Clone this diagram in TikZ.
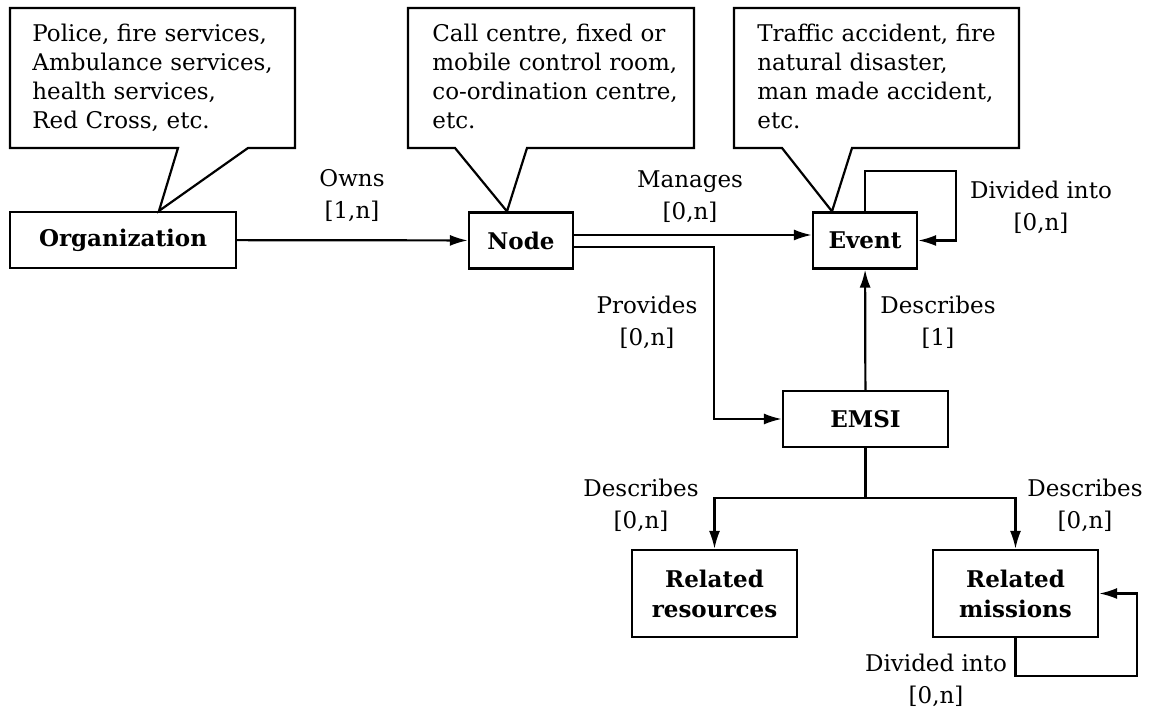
\documentclass[tikz,border=0pt]{standalone}
\usepackage{fontspec}
\setmainfont{DejaVu Serif}
\usetikzlibrary{arrows.meta}

\begin{document}
\begin{tikzpicture}[
    x=0.5pt, y=-0.5pt,
    every node/.style = {font=\fontsize{11.5}{15}\selectfont},
    box/.style = {
      draw, line width=1.1pt, align=center, inner sep=0pt,
      minimum height=28pt, font=\fontsize{11.5}{15}\selectfont\bfseries
    },
    note/.style = {
      anchor=north west, inner sep=0pt, text width=140pt, align=left,
      font=\fontsize{11.5}{14.5}\selectfont
    },
    lbl/.style = {align=center, font=\fontsize{11.5}{16}\selectfont},
    conn/.style = {line width=1.1pt, -{Latex[length=9pt, width=5.5pt]}},
    balloon/.style = {line width=1.1pt, line join=miter}
  ]
  \useasboundingbox (0,0) rectangle (1153,710);

  % entities
  \node[box, minimum width=113pt] (org) at (123,240) {Organization};
  \node[box, minimum width=52pt] (node) at (521,240.5) {Node};
  \node[box, minimum width=52pt] (event) at (865,240.5) {Event};
  \node[box, minimum width=82.5pt] (emsi) at (865.5,419) {EMSI};
  \node[box, minimum width=82.5pt, minimum height=43.5pt] (res) at (714.5,593.5)
    {Related\\resources};
  \node[box, minimum width=82.5pt, minimum height=43.5pt] (mis) at (1015.5,593.5)
    {Related\\missions};

  % callouts
  \draw[balloon] (10,8) -- (295,8) -- (295,148) -- (248,148)
    -- ([xshift=18pt]org.north) -- (178,148) -- (10,148) -- cycle;
  \draw[balloon] (408,8) -- (694,8) -- (694,148) -- (527,148)
    -- ([xshift=-7pt]node.north) -- (455,148) -- (408,148) -- cycle;
  \draw[balloon] (734,8) -- (1019,8) -- (1019,148) -- (852,148)
    -- ([xshift=-16.5pt]event.north) -- (782,148) -- (734,148) -- cycle;
  \node[note] (orgnote) at (32,24)
    {Police, fire services,\\Ambulance services,\\health services,\\Red Cross, etc.};
  \node[note] (nodenote) at (432,24)
    {Call centre, fixed or\\mobile control room,\\co-ordination centre,\\etc.};
  \node[note] (eventnote) at (757,24)
    {Traffic accident, fire\\natural disaster,\\man made accident,\\etc.};

  % relations
  \draw[conn] (org) -- (node);
  \draw[conn] ([yshift=2.75pt]node.east) -- ([yshift=2.75pt]event.west);
  \draw[conn] ([yshift=-3.25pt]node.east) -| ([xshift=-34pt]emsi.west) -- (emsi.west);
  \draw[conn] (emsi) -- (event);
  \draw[conn] (event.north) -- ++(0,-40) -| ([xshift=19pt]event.east) -- (event.east);
  \draw[conn] (emsi.south) -- ++(0,50) -| (res.north);
  \draw[conn] (emsi.south) -- ++(0,50) -| (mis.north);
  \draw[conn] (mis.south) -- ++(0,38) -| ([xshift=19pt]mis.east) -- (mis.east);

  % labels
  \node[lbl] (owns) at (352,196) {Owns\\{}[1,n]};
  \node[lbl] (manages) at (690,197) {Manages\\{}[0,n]};
  \node[lbl] (eventloop) at (1041,207) {Divided into\\{}[0,n]};
  \node[lbl] (provides) at (647,322) {Provides\\{}[0,n]};
  \node[lbl] (describesevent) at (938,322) {Describes\\{}[1]};
  \node[lbl] (describesres) at (641,505) {Describes\\{}[0,n]};
  \node[lbl] (describesmis) at (1085,505) {Describes\\{}[0,n]};
  \node[lbl] (misloop) at (936,680) {Divided into\\{}[0,n]};
\end{tikzpicture}
\end{document}
